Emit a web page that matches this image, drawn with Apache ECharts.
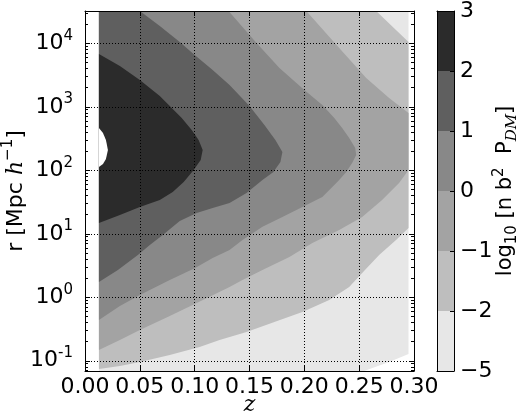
<!DOCTYPE html>
<html><head><meta charset="utf-8">
<script src="https://cdn.jsdelivr.net/npm/echarts@6/dist/echarts.min.js"></script>
<style>html,body{margin:0;padding:0;background:#fff}#c{width:520px;height:420px}</style>
</head><body><div id="c"></div>
<script>
// ---- axis ranges / ticks ----
const zMin = 0, zMax = 0.30, zStep = 0.05;
const logRMin = -1.161, logRMax = 4.509;          // log10 r extent of the plot
const yTickExps = [-1, 0, 1, 2, 3, 4];            // major ticks 10^k
const zDataStart = 0.0127, zDataEnd = 0.295;      // extent of the computed grid in z

// ---- contour lines, points are [z, log10 r] ----
// level 2 (boundary of the 2..3 band)
const contour2 = [[0.0127,3.832],[0.0318,3.643],[0.05,3.422],[0.0682,3.170],[0.0773,3.013],[0.0882,2.824],[0.0973,2.635],[0.1036,2.477],[0.1073,2.320],[0.1055,2.162],[0.0991,2.005],[0.09,1.816],[0.08,1.658],[0.0682,1.532],[0.05,1.422],[0.0318,1.296],[0.0127,1.170]];
// level 1
const contour1 = [[0.05,4.509],[0.0682,4.272],[0.0864,4.020],[0.1,3.816],[0.1164,3.580],[0.1318,3.343],[0.15,3.013],[0.1636,2.713],[0.1736,2.477],[0.18,2.288],[0.1782,2.131],[0.1718,1.973],[0.1618,1.847],[0.1473,1.643],[0.1318,1.485],[0.1164,1.406],[0.1018,1.328],[0.0864,1.202],[0.0709,0.981],[0.0591,0.824],[0.0482,0.666],[0.03,0.430],[0.0127,0.241]];
// level 0
const contour0 = [[0.1309,4.509],[0.1564,4.005],[0.1773,3.611],[0.2,3.265],[0.2164,3.028],[0.2273,2.824],[0.2345,2.666],[0.2409,2.509],[0.2464,2.351],[0.2473,2.241],[0.2436,2.115],[0.2382,1.973],[0.2318,1.847],[0.2255,1.737],[0.2164,1.580],[0.1982,1.422],[0.18,1.265],[0.1618,1.109],[0.1436,0.902],[0.1318,0.745],[0.1164,0.619],[0.1,0.459],[0.0773,0.272],[0.05,0.036],[0.0318,-0.137],[0.0127,-0.358]];
// level -1 (upper and lower branches)
const contourM1Upper = [[0.2018,4.509],[0.2318,3.926],[0.2564,3.454],[0.2773,3.139],[0.295,2.902]];
const contourM1Lower = [[0.295,2.005],[0.2864,1.800],[0.2709,1.532],[0.2527,1.265],[0.2318,1.060],[0.2073,0.854],[0.1864,0.635],[0.1618,0.430],[0.1436,0.272],[0.1318,0.162],[0.1,-0.106],[0.0773,-0.294],[0.05,-0.515],[0.0318,-0.672],[0.0127,-0.830]];
// level -2
const contourM2Upper = [[0.2655,4.509],[0.295,4.020]];
const contourM2Lower = [[0.295,1.091],[0.2836,0.902],[0.2682,0.667],[0.2527,0.383],[0.2409,0.162],[0.2227,-0.043],[0.1982,-0.232],[0.1727,-0.389],[0.1473,-0.546],[0.1227,-0.672],[0.1045,-0.783],[0.0773,-0.909],[0.05,-1.019],[0.0318,-1.083],[0.0127,-1.129]];
// level -5 (bottom-right corner)
const contourM5 = [[0.295,-0.893],[0.2773,-1.019],[0.2545,-1.161]];
// level 3 (small hole on the left)
const contour3 = [[0.0127,2.666],[0.0164,2.587],[0.0191,2.477],[0.0209,2.320],[0.0191,2.178],[0.0164,2.099],[0.0127,2.052]];

// ---- colour bar ----
const colorbarLabels = ['\u22125', '\u22122', '\u22121', '0', '1', '2', '3'];
const bandColors = ['#e7e7e7', '#bebebe', '#a3a3a3', '#888888', '#5f5f5f', '#2b2b2b'];
const holeColor = '#ffffff';

// regions (value >= level), built from the contour lines
const regions = [
  [[zDataStart, logRMax], [zDataEnd, logRMax]].concat(contourM5, [[zDataStart, logRMin]]),
  [[zDataStart, logRMax]].concat(contourM2Upper, contourM2Lower),
  [[zDataStart, logRMax]].concat(contourM1Upper, contourM1Lower),
  [[zDataStart, logRMax]].concat(contour0),
  [[zDataStart, logRMax]].concat(contour1),
  contour2,
  contour3
];
const regionFills = bandColors.concat([holeColor]);

const minorTicks = [];
for (let k = yTickExps[0] - 1; k <= yTickExps[yTickExps.length - 1]; k++) {
  for (let m = 2; m <= 9; m++) {
    const v = k + Math.log10(m);
    if (v > logRMin && v < logRMax) minorTicks.push(v);
  }
}

const FONT = 'DejaVu Sans';
const FS = 22, FSS = 15;
const chart = echarts.init(document.getElementById('c'), null, {renderer: 'canvas'});

function yAxisBase(extra) {
  return Object.assign({
    type: 'value', gridIndex: 0, min: logRMin, max: logRMax, z: 10,
    axisLine: {show: true, onZero: false, lineStyle: {color: '#000', width: 1}},
    splitLine: {show: false}, axisLabel: {show: false}
  }, extra);
}
function xLine() { return {show: true, onZero: false, lineStyle: {color: '#000', width: 1}}; }

const option = {
  animation: false,
  grid: [
    {left: 85, top: 11, width: 329, height: 360, containLabel: false, outerBoundsMode: 'none'},
    {left: 437, top: 11, width: 17, height: 360, containLabel: false, outerBoundsMode: 'none'}
  ],
  xAxis: [
    {type: 'value', gridIndex: 0, min: zMin, max: zMax, interval: zStep, position: 'bottom', z: 10,
     axisLine: xLine(),
     axisTick: {inside: true, length: 5, lineStyle: {color: '#000'}},
     axisLabel: {color: '#000', fontFamily: FONT, fontSize: FS, margin: 5, hideOverlap: false, formatter: v => v.toFixed(2)},
     splitLine: {show: true, lineStyle: {color: '#000', width: 1, type: [1, 2]}},
     name: 'z', nameLocation: 'middle', nameGap: 23, nameMoveOverlap: false,
     nameTextStyle: {fontFamily: 'DejaVu Serif', fontStyle: 'italic', fontSize: FS, color: '#000'}},
    {type: 'value', gridIndex: 0, min: zMin, max: zMax, interval: zStep, position: 'top', z: 10,
     axisLine: xLine(),
     axisTick: {inside: true, length: 5, lineStyle: {color: '#000'}},
     axisLabel: {show: false}, splitLine: {show: false}},
    {type: 'value', gridIndex: 1, min: 0, max: 1, position: 'bottom', z: 10,
     axisLine: xLine(), axisTick: {show: false}, axisLabel: {show: false}, splitLine: {show: false}},
    {type: 'value', gridIndex: 1, min: 0, max: 1, position: 'top', z: 10,
     axisLine: xLine(), axisTick: {show: false}, axisLabel: {show: false}, splitLine: {show: false}}
  ],
  yAxis: [
    yAxisBase({position: 'left',
      axisTick: {inside: true, length: 5, lineStyle: {color: '#000'}},
      splitLine: {show: true, lineStyle: {color: '#000', width: 1, type: [1, 2]}},
      axisLabel: {show: true, color: '#000', fontFamily: FONT, fontSize: FS, margin: 12, lineHeight: 30,
        formatter: function (v) {
          const r = Math.round(v);
          if (Math.abs(v - r) > 1e-6 || yTickExps.indexOf(r) < 0) return '';
          return '10{sup|' + r + '}';
        },
        rich: {sup: {fontSize: FSS, fontFamily: FONT, color: '#000', verticalAlign: 'top', lineHeight: FSS}}},
      name: 'r [Mpc {it|h}{sup|\u22121}]', nameLocation: 'middle', nameGap: 54, nameRotate: 90, nameMoveOverlap: false,
      nameTextStyle: {fontFamily: FONT, fontSize: FS, color: '#000', lineHeight: 30,
        rich: {it: {fontFamily: 'DejaVu Serif', fontStyle: 'italic', fontSize: FS, color: '#000'},
               sup: {fontFamily: FONT, fontSize: FSS, color: '#000', verticalAlign: 'top', lineHeight: FSS}}}}),
    yAxisBase({position: 'left', axisLine: {show: false, onZero: false},
      axisTick: {inside: true, length: 3, customValues: minorTicks, lineStyle: {color: '#000'}}}),
    yAxisBase({position: 'right',
      axisTick: {inside: true, length: 5, customValues: yTickExps, lineStyle: {color: '#000'}}}),
    yAxisBase({position: 'right', axisLine: {show: false, onZero: false},
      axisTick: {inside: true, length: 3, customValues: minorTicks, lineStyle: {color: '#000'}}}),
    {type: 'value', gridIndex: 1, min: 0, max: 6, interval: 1, position: 'right', z: 10,
     axisLine: {show: true, onZero: false, lineStyle: {color: '#000', width: 1}},
     axisTick: {inside: true, length: 4, lineStyle: {color: '#000'}},
     splitLine: {show: false},
     axisLabel: {color: '#000', fontFamily: FONT, fontSize: FS, margin: 6, formatter: v => colorbarLabels[Math.round(v)]},
     name: 'log{sub|10} [n b{sup|2}  P{sub2|DM}]', nameLocation: 'middle', nameGap: 38, nameRotate: 90, nameMoveOverlap: false,
     nameTextStyle: {fontFamily: FONT, fontSize: 21, color: '#000', lineHeight: 28,
       rich: {sub: {fontFamily: FONT, fontSize: 15, color: '#000', verticalAlign: 'bottom', lineHeight: 15},
              sup: {fontFamily: FONT, fontSize: 15, color: '#000', verticalAlign: 'top', lineHeight: 15},
              sub2: {fontFamily: 'DejaVu Serif', fontStyle: 'italic', fontSize: 15, color: '#000', verticalAlign: 'bottom', lineHeight: 15}}}},
    {type: 'value', gridIndex: 1, min: 0, max: 6, position: 'left', z: 10,
     axisLine: {show: true, onZero: false, lineStyle: {color: '#000', width: 1}}, axisTick: {show: false}, axisLabel: {show: false}, splitLine: {show: false}}
  ],
  series: [
    {type: 'custom', xAxisIndex: 0, yAxisIndex: 0, z: 1, silent: true,
     data: regions.map((_, i) => i),
     renderItem: function (params, api) {
       const i = params.dataIndex;
       return {type: 'polygon', shape: {points: regions[i].map(p => api.coord(p))},
               style: {fill: regionFills[i], stroke: null}};
     }},
    {type: 'custom', xAxisIndex: 2, yAxisIndex: 4, z: 1, silent: true,
     data: bandColors.map((_, i) => i),
     renderItem: function (params, api) {
       const i = params.dataIndex;
       const p0 = api.coord([0, i + 1]);
       const p1 = api.coord([1, i]);
       return {type: 'rect', shape: {x: p0[0], y: p0[1], width: p1[0] - p0[0], height: p1[1] - p0[1]},
               style: {fill: bandColors[i], stroke: null}};
     }}
  ]
};
chart.setOption(option);
</script>
</body></html>
